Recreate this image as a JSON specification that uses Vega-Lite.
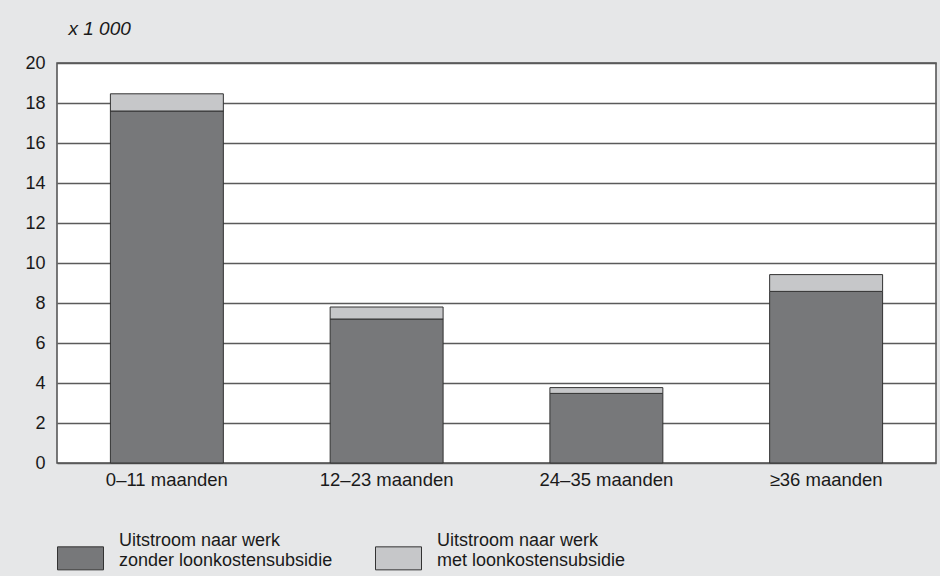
{
  "$schema": "https://vega.github.io/schema/vega-lite/v6.json",
  "width": 879,
  "height": 400,
  "autosize": {"type": "none"},
  "padding": {"left": 57, "top": 63, "right": 4, "bottom": 113},
  "background": "#e6e7e8",
  "config": {
    "font": "Liberation Sans",
    "view": {"fill": "white", "stroke": "#4d4d4d", "strokeWidth": 1.5},
    "axis": {"labelFont": "Liberation Sans", "labelColor": "#1a1a1a"}
  },
  "data": {
    "values": [
      {"duur": "0–11 maanden", "type": "Uitstroom naar werk zonder loonkostensubsidie", "k": 1, "aantal": 17.6},
      {"duur": "0–11 maanden", "type": "Uitstroom naar werk met loonkostensubsidie", "k": 2, "aantal": 0.86},
      {"duur": "12–23 maanden", "type": "Uitstroom naar werk zonder loonkostensubsidie", "k": 1, "aantal": 7.2},
      {"duur": "12–23 maanden", "type": "Uitstroom naar werk met loonkostensubsidie", "k": 2, "aantal": 0.6},
      {"duur": "24–35 maanden", "type": "Uitstroom naar werk zonder loonkostensubsidie", "k": 1, "aantal": 3.48},
      {"duur": "24–35 maanden", "type": "Uitstroom naar werk met loonkostensubsidie", "k": 2, "aantal": 0.29},
      {"duur": "≥36 maanden", "type": "Uitstroom naar werk zonder loonkostensubsidie", "k": 1, "aantal": 8.58},
      {"duur": "≥36 maanden", "type": "Uitstroom naar werk met loonkostensubsidie", "k": 2, "aantal": 0.84}
    ]
  },
  "mark": {"type": "bar", "stroke": "#333333", "strokeWidth": 1},
  "encoding": {
    "x": {
      "field": "duur",
      "type": "nominal",
      "sort": null,
      "scale": {"paddingInner": 0.486, "paddingOuter": 0.243},
      "axis": {"title": null, "labelAngle": 0, "ticks": false, "domain": false, "labelPadding": 7, "labelFontSize": 18.5}
    },
    "y": {
      "field": "aantal",
      "type": "quantitative",
      "stack": "zero",
      "scale": {"domain": [0, 20], "nice": false},
      "axis": {
        "values": [0, 2, 4, 6, 8, 10, 12, 14, 16, 18, 20],
        "ticks": false,
        "domain": false,
        "labelPadding": 12,
        "labelFontSize": 18,
        "gridColor": "#5a5a5a",
        "gridWidth": 1.5,
        "title": "x 1 000",
        "titleAngle": 0,
        "titleAlign": "left",
        "titleBaseline": "middle",
        "titleX": 11,
        "titleY": -35,
        "titleFont": "Liberation Sans",
        "titleFontStyle": "italic",
        "titleFontWeight": "normal",
        "titleFontSize": 19,
        "titleColor": "#1a1a1a"
      }
    },
    "order": {"field": "k", "type": "quantitative"},
    "color": {
      "field": "type",
      "type": "nominal",
      "sort": ["Uitstroom naar werk zonder loonkostensubsidie", "Uitstroom naar werk met loonkostensubsidie"],
      "scale": {
        "domain": ["Uitstroom naar werk zonder loonkostensubsidie", "Uitstroom naar werk met loonkostensubsidie"],
        "range": ["#77787a", "#c6c7c9"]
      },
      "legend": {
        "title": null,
        "orient": "none",
        "legendX": 0,
        "legendY": 454,
        "direction": "horizontal",
        "columns": 2,
        "columnPadding": 40,
        "padding": 0,
        "symbolType": "M-1,0.27L1,0.27L1,1.27L-1,1.27Z",
        "symbolSize": 2116,
        "symbolStrokeColor": "#333333",
        "symbolStrokeWidth": 1,
        "symbolOpacity": 1,
        "labelOffset": 15,
        "labelFont": "Liberation Sans",
        "labelFontSize": 18,
        "labelColor": "#1a1a1a",
        "labelLimit": 400,
        "labelExpr": "['Uitstroom naar werk', slice(datum.label, 20)]"
      }
    }
  }
}
